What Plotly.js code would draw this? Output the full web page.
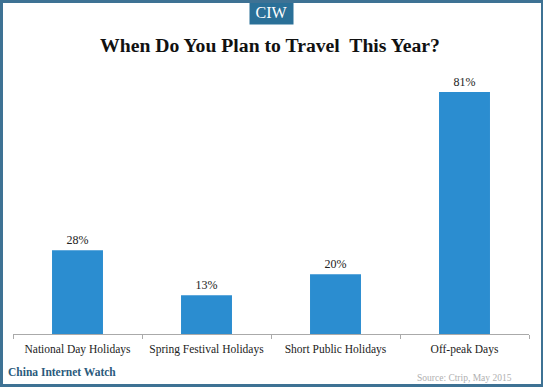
<!DOCTYPE html>
<html>
<head>
<meta charset="utf-8">
<script src="https://cdn.plot.ly/plotly-3.0.1.min.js"></script>
<style>
html,body{margin:0;padding:0;background:#fff;}
#wrap{position:relative;width:543px;height:387px;}
#chart{width:543px;height:387px;}
#frame{position:absolute;left:0;top:0;width:538px;height:381px;border:3px solid #3e7294;border-bottom-width:4px;pointer-events:none;}
</style>
</head>
<body>
<div id="wrap">
<div id="chart"></div>
<div id="frame"></div>
</div>
<script>
const categories = ["National Day Holidays", "Spring Festival Holidays", "Short Public Holidays", "Off-peak Days"];
const values = [28, 13, 20, 81];
const valueLabels = ["28%", "13%", "20%", "81%"];

const serif = "Liberation Serif, Times New Roman, serif";

const trace = {
  type: "bar",
  x: categories,
  y: values,
  text: valueLabels,
  textposition: "outside",
  cliponaxis: false,
  textfont: {family: serif, size: 12, color: "#222"},
  marker: {color: "#2b8dd0"},
  width: 0.395,
  hoverinfo: "none"
};

const layout = {
  width: 543,
  height: 387,
  margin: {l: 13, r: 14, t: 65, b: 53},
  paper_bgcolor: "#fff",
  plot_bgcolor: "#fff",
  showlegend: false,
  title: {
    text: "<b>When Do You Plan to Travel&nbsp; This Year?</b>",
    font: {family: serif, size: 19.7, color: "#111"},
    x: (270 - 13)/516, xref: "paper", xanchor: "center",
    y: 1 - 45/387, yanchor: "middle", yref: "container"
  },
  xaxis: {
    type: "category",
    showline: true,
    linecolor: "#aaaaaa",
    linewidth: 1,
    ticks: "outside",
    tickson: "boundaries",
    ticklen: 4,
    tickcolor: "#aaaaaa",
    ticklabelstandoff: 4,
    showgrid: false,
    tickfont: {family: serif, size: 11.5, color: "#222"},
    fixedrange: true
  },
  yaxis: {
    range: [0, 90],
    visible: false,
    showgrid: false,
    zeroline: false,
    fixedrange: true
  },
  annotations: [
    {
      text: "CIW", xref: "paper", yref: "paper",
      x: 0.5, y: 1 + 53/268, xanchor: "center", yanchor: "middle",
      showarrow: false,
      font: {family: serif, size: 16, color: "#fff"},
      bgcolor: "#2a7098", borderpad: 3, width: 37, height: 18
    },
    {
      text: "<b>China Internet Watch</b>", xref: "paper", yref: "paper",
      x: -7/516, y: -38/268, xanchor: "left", yanchor: "middle",
      showarrow: false,
      font: {family: serif, size: 11.5, color: "#2a5a7c"}
    },
    {
      text: "Source: Ctrip, May 2015", xref: "paper", yref: "paper",
      x: (514 - 13)/516, y: -44/268, xanchor: "right", yanchor: "middle",
      showarrow: false,
      font: {family: serif, size: 9.5, color: "#b0b0b0"}
    }
  ]
};

Plotly.newPlot("chart", [trace], layout, {displayModeBar: false, staticPlot: true});
</script>
</body>
</html>
